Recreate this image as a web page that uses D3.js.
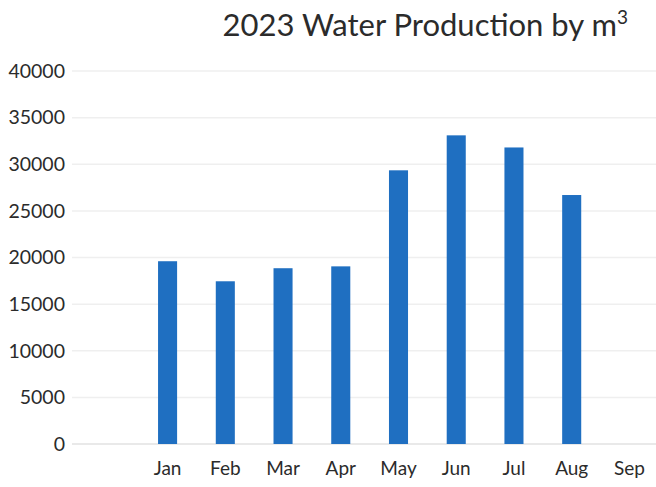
<!DOCTYPE html>
<html>
<head>
<meta charset="utf-8">
<script src="https://cdn.jsdelivr.net/npm/d3@7"></script>
<style>
  body { margin: 0; background: #fff; }
  svg { display: block; }
  .tick-label { font-family: Lato, "Open Sans", sans-serif; fill: #2b2b2b; }
</style>
</head>
<body>
<div id="chart"></div>
<script>
// Chart data
const months = ["Jan", "Feb", "Mar", "Apr", "May", "Jun", "Jul", "Aug", "Sep"];
const production = [19600, 17450, 18850, 19050, 29350, 33100, 31800, 26700, null];
const yTicks = [0, 5000, 10000, 15000, 20000, 25000, 30000, 35000, 40000];

const width = 656, height = 487;

const svg = d3.select("#chart").append("svg")
    .attr("width", width)
    .attr("height", height);

// Scales
const x = d3.scaleBand()
    .domain(months)
    .range([139, 658])
    .paddingInner(0.67)
    .paddingOuter(0.33);

const y = d3.scaleLinear()
    .domain([0, 40000])
    .range([444, 71]);

// Gridlines
svg.append("g")
    .selectAll("line")
    .data(yTicks)
    .join("line")
    .attr("x1", 72)
    .attr("x2", width)
    .attr("y1", d => y(d))
    .attr("y2", d => y(d))
    .attr("stroke", d => d === 0 ? "#e2e2e2" : "#efefef")
    .attr("stroke-width", 1.5);

// Y axis labels
const yAxis = d3.axisLeft(y).tickValues(yTicks).tickFormat(d3.format("d")).tickSize(0).tickPadding(0);
svg.append("g")
    .attr("transform", "translate(65,0)")
    .call(yAxis)
    .call(g => g.select(".domain").remove())
    .call(g => g.selectAll("text")
        .attr("class", "tick-label")
        .style("font-size", "19.5px"));

// X axis labels
const xAxis = d3.axisBottom(x).tickSize(0).tickPadding(0);
svg.append("g")
    .attr("transform", "translate(0,461)")
    .call(xAxis)
    .call(g => g.select(".domain").remove())
    .call(g => g.selectAll("text")
        .attr("class", "tick-label")
        .style("font-size", "19px"));

// Bars
svg.append("g")
    .selectAll("rect")
    .data(months.map((m, i) => ({ month: m, value: production[i] })).filter(d => d.value != null))
    .join("rect")
    .attr("fill", "#1f6fc1")
    .attr("x", d => x(d.month))
    .attr("y", d => y(d.value))
    .attr("width", x.bandwidth())
    .attr("height", d => y(0) - y(d.value));

// Title
const title = svg.append("text")
    .attr("x", 628)
    .attr("y", 36)
    .attr("text-anchor", "end")
    .style("font-family", "Lato, 'Open Sans', sans-serif")
    .style("font-size", "31px")
    .style("fill", "#2b2b2b")
    .text("2023 Water Production by m");
title.append("tspan")
    .attr("dy", -12)
    .style("font-size", "19px")
    .text("3");
</script>
</body>
</html>
